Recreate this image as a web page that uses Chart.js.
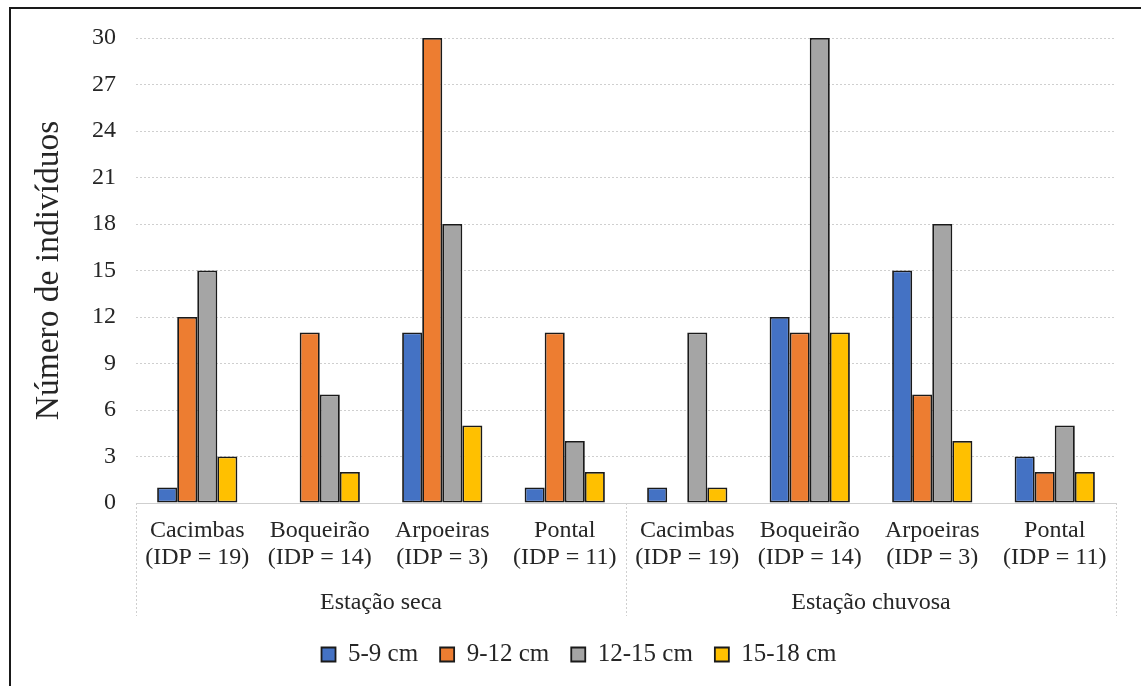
<!DOCTYPE html>
<html>
<head>
<meta charset="utf-8">
<script src="https://cdn.jsdelivr.net/npm/chart.js@4/dist/chart.umd.min.js"></script>
<style>
  html, body { margin: 0; padding: 0; background: #fff; }
  #wrap { width: 1141px; height: 686px; position: relative; }
</style>
</head>
<body>
<div id="wrap"><canvas id="c" width="1141" height="686"></canvas></div>
<script>
// Sites (two-line tick labels) for each season
const siteLabels = [
  ['Cacimbas', '(IDP = 19)'],
  ['Boqueirão', '(IDP = 14)'],
  ['Arpoeiras', '(IDP = 3)'],
  ['Pontal', '(IDP = 11)'],
  ['Cacimbas', '(IDP = 19)'],
  ['Boqueirão', '(IDP = 14)'],
  ['Arpoeiras', '(IDP = 3)'],
  ['Pontal', '(IDP = 11)']
];
const seasons = ['Estação seca', 'Estação chuvosa'];
const sitesPerSeason = 4;

// Number of individuals per size class
const size5to9   = [1, 0, 11, 1, 1, 12, 15, 3];
const size9to12  = [12, 11, 30, 11, 0, 11, 7, 2];
const size12to15 = [15, 7, 18, 4, 11, 30, 18, 5];
const size15to18 = [3, 2, 5, 2, 1, 11, 4, 2];

const seriesNames = ['5-9 cm', '9-12 cm', '12-15 cm', '15-18 cm'];
const seriesColors = ['#4472C4', '#ED7D31', '#A5A5A5', '#FFC000'];

const yTicks = { min: 0, max: 30, step: 3 };
const yTitle = 'Número de indivíduos';

const serif = "'Liberation Serif', 'Times New Roman', serif";
const textColor = '#262626';
const gridColor = '#cfcfcf';

// Frame, category separators and season labels under the axis
const decorations = {
  id: 'decorations',
  afterLayout(chart) {
    // nudge the legend row a little to the right
    chart.legend.left += 21;
    chart.legend.right += 21;
  },
  beforeDraw(chart) {
    const ctx = chart.ctx;
    ctx.save();
    ctx.fillStyle = '#fff';
    ctx.fillRect(0, 0, chart.width, chart.height);
    ctx.strokeStyle = '#1a1a1a';
    ctx.lineWidth = 2;
    ctx.beginPath();
    ctx.moveTo(10, chart.height);
    ctx.lineTo(10, 8);
    ctx.lineTo(chart.width, 8);
    ctx.stroke();
    ctx.restore();
  },
  afterDraw(chart) {
    const ctx = chart.ctx;
    const x = chart.scales.x;
    const area = chart.chartArea;
    const n = siteLabels.length;
    const step = (area.right - area.left) / n;
    const bottom = area.bottom + 113;
    ctx.save();
    ctx.strokeStyle = gridColor;
    ctx.lineWidth = 1;
    ctx.setLineDash([2, 2]);
    for (let g = 0; g <= seasons.length; g++) {
      const px = Math.round(area.left + g * sitesPerSeason * step) + 0.5;
      ctx.beginPath();
      ctx.moveTo(px, area.bottom);
      ctx.lineTo(px, bottom);
      ctx.stroke();
    }
    ctx.setLineDash([]);
    ctx.fillStyle = textColor;
    ctx.font = '24px ' + serif;
    ctx.textAlign = 'center';
    ctx.textBaseline = 'middle';
    seasons.forEach((s, g) => {
      const first = x.getPixelForValue(g * sitesPerSeason);
      const last = x.getPixelForValue(g * sitesPerSeason + sitesPerSeason - 1);
      ctx.fillText(s, (first + last) / 2, area.bottom + 100);
    });
    ctx.restore();
  }
};

const datasets = [size5to9, size9to12, size12to15, size15to18].map((vals, i) => ({
  label: seriesNames[i],
  data: vals,
  backgroundColor: seriesColors[i],
  borderColor: '#1a1a1a',
  borderWidth: 1.8,
  borderSkipped: false,
  categoryPercentage: 0.655,
  barPercentage: 1.0
}));

new Chart(document.getElementById('c'), {
  type: 'bar',
  data: { labels: siteLabels, datasets },
  plugins: [decorations],
  options: {
    responsive: false,
    animation: false,
    devicePixelRatio: 1,
    layout: { padding: { left: 0, right: 25, top: 38, bottom: 9 } },
    plugins: {
      tooltip: { enabled: false },
      legend: {
        position: 'bottom',
        labels: {
          font: { family: serif, size: 25 },
          color: textColor,
          boxWidth: 14,
          boxHeight: 14,
          padding: 22
        }
      }
    },
    scales: {
      x: {
        grid: { display: false, drawTicks: false },
        border: { display: true, color: gridColor, dash: [2, 2], width: 1 },
        ticks: {
          font: { family: serif, size: 24, lineHeight: 1.13 },
          color: textColor,
          padding: 14,
          maxRotation: 0,
          autoSkip: false
        },
        afterFit(scale) { scale.height = 117; }
      },
      y: {
        min: yTicks.min,
        max: yTicks.max,
        grid: { color: gridColor, drawTicks: false, lineWidth: 1 },
        border: { display: false, dash: [2, 2] },
        ticks: {
          stepSize: yTicks.step,
          font: { family: serif, size: 24 },
          color: textColor,
          padding: 20
        },
        title: {
          display: true,
          text: yTitle,
          font: { family: serif, size: 33.5 },
          color: textColor,
          padding: { top: 29, bottom: 0 }
        },
        afterFit(scale) { scale.width = 136; }
      }
    }
  }
});
</script>
</body>
</html>
